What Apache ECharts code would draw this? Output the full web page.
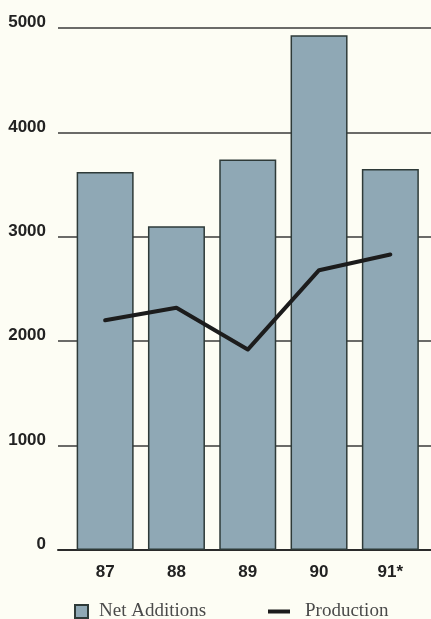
<!DOCTYPE html>
<html><head><meta charset="utf-8">
<script src="https://cdn.jsdelivr.net/npm/echarts@6/dist/echarts.min.js"></script>
<style>html,body{margin:0;padding:0;background:#fdfdf4;}#c{width:431px;height:619px;}</style>
</head><body><div id="c"></div>
<script>
var categories = ['87', '88', '89', '90', '91*'];
var netAdditions = [3620, 3100, 3740, 4930, 3650];
var production = [2200, 2320, 1920, 2680, 2830];
var yTicks = [0, 1000, 2000, 3000, 4000, 5000];

var chart = echarts.init(document.getElementById('c'), null, {renderer: 'canvas'});
var topPx = 28, bottomPx = 69;
chart.setOption({
  backgroundColor: '#fdfdf4',
  animation: false,
  grid: [
    {left: 58, right: 0, top: topPx, bottom: bottomPx},
    {left: 69.5, right: 5, top: topPx, bottom: bottomPx}
  ],
  xAxis: [
    {gridIndex: 0, type: 'category', data: categories, show: true,
      axisLine: {show: true, lineStyle: {color: '#2a2a2a', width: 2}},
      axisTick: {show: false}, axisLabel: {show: false}},
    {gridIndex: 1, type: 'category', data: categories,
      axisLine: {show: false}, axisTick: {show: false},
      axisLabel: {margin: 14, color: '#222', fontFamily: 'Liberation Sans', fontWeight: 'bold', fontSize: 17}}
  ],
  yAxis: [
    {gridIndex: 0, type: 'value', min: yTicks[0], max: yTicks[yTicks.length-1], interval: 1000,
      axisLine: {show: false}, axisTick: {show: false},
      axisLabel: {margin: 12, color: '#222', fontFamily: 'Liberation Sans', fontWeight: 'bold', fontSize: 17,
        verticalAlign: 'bottom', lineHeight: 11,
        formatter: function (v) { return String(v); }},
      splitLine: {show: true, lineStyle: {color: '#3a3a3a', width: 1.5}}},
    {gridIndex: 1, type: 'value', min: yTicks[0], max: yTicks[yTicks.length-1], interval: 1000, show: false,
      splitLine: {show: false}}
  ],
  legend: [
    {left: 69, top: 597, data: [{name: 'Net Additions', icon: 'rect'}], itemWidth: 13, itemHeight: 13,
      textStyle: {fontFamily: 'Liberation Serif', fontSize: 19, color: '#4a4a4a', padding: [0,0,0,6]}},
    {left: 263, top: 597, data: [{name: 'Production', icon: 'rect'}], itemWidth: 22, itemHeight: 4,
      textStyle: {fontFamily: 'Liberation Serif', fontSize: 19, color: '#4a4a4a', padding: [0,0,0,10]}}
  ],
  series: [
    {name: 'Net Additions', type: 'bar', xAxisIndex: 1, yAxisIndex: 1, data: netAdditions, barWidth: 57,
      itemStyle: {color: '#8fa8b5', borderColor: '#2e3a38', borderWidth: 1.5}},
    {name: 'Production', type: 'line', xAxisIndex: 1, yAxisIndex: 1, data: production,
      symbol: 'none', lineStyle: {color: '#1c1c1c', width: 4, cap: 'round', join: 'round'},
      itemStyle: {color: '#1c1c1c'}}
  ]
});
</script></body></html>
